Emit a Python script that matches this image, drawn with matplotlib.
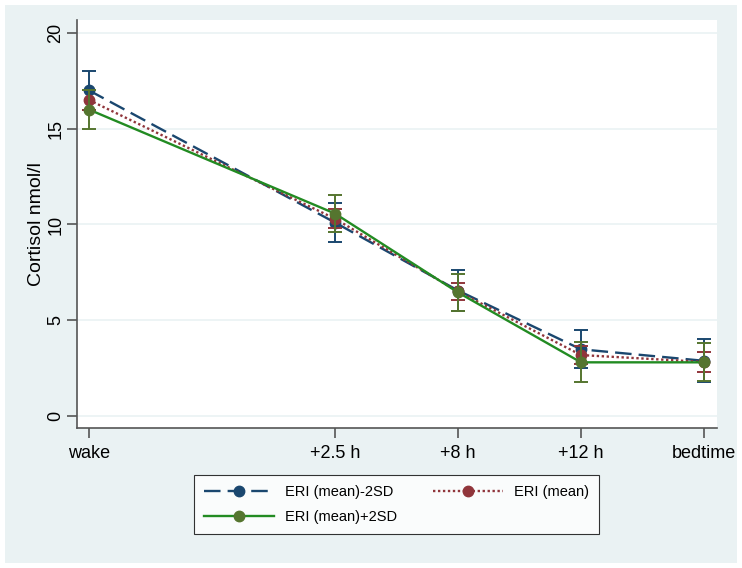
import matplotlib
matplotlib.use("Agg")
import matplotlib.pyplot as plt
from matplotlib.patches import Rectangle
from matplotlib.lines import Line2D

# ---- data ----
time_labels = ["wake", "+2.5 h", "+8 h", "+12 h", "bedtime"]
time_pos = [0, 2, 3, 4, 5]

low_mean = [17.0, 10.1, 6.55, 3.48, 2.88]
low_err = [1.0, 1.0, 1.07, 1.0, 1.12]
mid_mean = [16.5, 10.3, 6.5, 3.18, 2.82]
mid_err = [0.5, 0.5, 0.43, 0.45, 0.52]
high_mean = [16.0, 10.57, 6.45, 2.80, 2.80]
high_err = [1.0, 0.97, 0.95, 1.05, 1.0]

series_names = ["ERI (mean)-2SD", "ERI (mean)", "ERI (mean)+2SD"]
y_ticks = [0, 5, 10, 15, 20]

plt.rcParams['font.family'] = ['Liberation Sans', 'DejaVu Sans']

W, H = 742, 568
fig = plt.figure(figsize=(W / 100, H / 100), dpi=100, facecolor="white")
fig.patches.append(Rectangle((5 / W, 5 / H), (W - 10) / W, (H - 10) / H,
                             transform=fig.transFigure, facecolor="#EAF2F3",
                             edgecolor="none", zorder=-10))

ax = fig.add_axes([77 / W, 1 - 428 / H, (717 - 77) / W, (428 - 20) / H])
ax.set_facecolor("white")

navy = "#1a476f"
maroon = "#90353b"
green_line = "#228b22"
green_mk = "#55752f"

ms = 7.5
lw = 1.7
cap = 5
ebw = 1.4
# blue
ax.errorbar(time_pos, low_mean, yerr=low_err, fmt="none", ecolor=navy,
            elinewidth=ebw, capsize=cap, capthick=ebw, zorder=2)
l1, = ax.plot(time_pos, low_mean, color=navy, lw=lw, dashes=(7, 3),
              marker="o", ms=ms, mfc=navy, mec=navy, zorder=3)
# red
ax.errorbar(time_pos, mid_mean, yerr=mid_err, fmt="none", ecolor=maroon,
            elinewidth=ebw, capsize=cap, capthick=ebw, zorder=4)
l2, = ax.plot(time_pos, mid_mean, color=maroon, lw=lw, dashes=(1, 1.1),
              marker="o", ms=ms, mfc=maroon, mec=maroon, zorder=5)
# green
ax.errorbar(time_pos, high_mean, yerr=high_err, fmt="none", ecolor=green_mk,
            elinewidth=ebw, capsize=cap, capthick=ebw, zorder=6)
ax.plot(time_pos, high_mean, color=green_line, lw=lw, zorder=7)
ax.plot(time_pos, high_mean, ls="none", marker="o", ms=ms, mfc=green_mk,
        mec=green_mk, zorder=8)
l3 = Line2D([], [], color=green_line, lw=lw, marker="o", ms=ms,
            mfc=green_mk, mec=green_mk)

ax.set_xlim(-0.098, 5.106)
ax.set_ylim(-0.63, 20.68)
ax.set_xticks(time_pos)
ax.set_xticklabels(time_labels, fontsize=13)
ax.set_yticks(y_ticks)
ax.set_yticklabels([str(v) for v in y_ticks], fontsize=13, rotation=90,
                   va="center")
ax.grid(axis="y", color="#EAF2F3", lw=1.2)
ax.set_axisbelow(True)
for s in ["top", "right"]:
    ax.spines[s].set_visible(False)
for s in ["left", "bottom"]:
    ax.spines[s].set_color("#555555")
    ax.spines[s].set_linewidth(1.2)
ax.tick_params(axis="both", color="#555555", length=7, width=1.2)
ax.tick_params(axis="y", pad=2)
ax.tick_params(axis="x", pad=5)
ax.set_ylabel("Cortisol nmol/l", fontsize=14, labelpad=2)

leg = fig.legend([l1, l3, l2], [series_names[0], series_names[2], series_names[1]],
                 ncol=2, loc="center", bbox_to_anchor=(396.5 / W, 1 - 504.5 / H),
                 fontsize=10.5, frameon=True, fancybox=False, edgecolor="black",
                 handlelength=4.8, columnspacing=2.4, borderpad=0.7,
                 labelspacing=0.75, handletextpad=0.8)
leg.get_frame().set_linewidth(0.8)

fig.savefig("out.png", dpi=100, facecolor="white")
